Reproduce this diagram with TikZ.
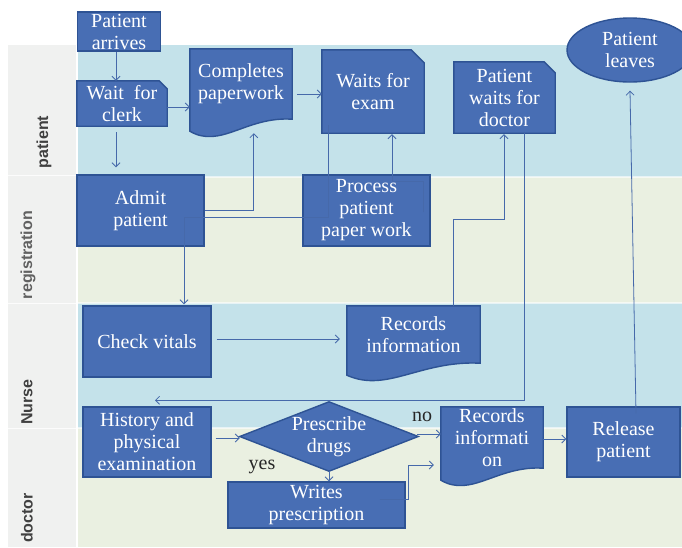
\documentclass[tikz,border=0pt]{standalone}
\usepackage{fontspec}
\setmainfont{Liberation Serif}
\newfontfamily\lanefont{Liberation Sans}
\usetikzlibrary{calc,arrows.meta,shapes.geometric}
\definecolor{laneblue}{RGB}{196,226,234}
\definecolor{lanegreen}{RGB}{234,240,225}
\definecolor{labelgray}{RGB}{240,241,240}
\definecolor{boxfill}{RGB}{72,110,180}
\definecolor{boxline}{RGB}{46,83,148}
\definecolor{connline}{RGB}{70,105,170}
\pgfdeclarelayer{back}
\pgfdeclarelayer{shapes}
\pgfsetlayers{back,shapes,main}
\tikzset{
  boxtext/.style={text=white, font=\fontsize{20}{22}\selectfont, align=center, inner sep=0pt},
  rectbox/.style={boxtext, rectangle, draw=boxline, fill=boxfill, line width=1.4pt},
  plainbox/.style={boxtext, rectangle, draw=none},
  shapefill/.style={draw=boxline, fill=boxfill, line width=1.4pt, line join=miter},
  conn/.style={draw=connline, line width=0.8pt, -{Straight Barb[length=4pt,width=8pt]}},
  lanelabel/.style={rotate=90, font=\lanefont\bfseries\fontsize{16}{16}\selectfont, text=black!75, inner sep=0pt},
  edgelabel/.style={font=\fontsize{20}{22}\selectfont, text=black!85, inner sep=0pt},
}
\newcommand\cardshape[2]{%
  \begin{pgfonlayer}{shapes}
  \path[shapefill] (#1.north west) -- ($(#1.north east)+(-#2,0)$) -- ($(#1.north east)+(0,#2)$)
     -- (#1.south east) -- (#1.south west) -- cycle;
  \end{pgfonlayer}}
\newcommand\docshape[1]{%
  \begin{pgfonlayer}{shapes}
  \path[shapefill] (#1.north west) -- (#1.north east) -- (#1.south east)
     .. controls ($(#1.south west)!0.55!(#1.south east)+(0,-3)$) and ($(#1.south west)!0.3!(#1.south east)+(0,30)$)
     .. ($(#1.south west)+(0,12)$) -- cycle;
  \end{pgfonlayer}}
\newcommand\diamondshape[1]{%
  \begin{pgfonlayer}{shapes}
  \path[shapefill] (#1.west) -- (#1.north) -- (#1.east) -- (#1.south) -- cycle;
  \end{pgfonlayer}}
\begin{document}
\begin{tikzpicture}[x=1pt,y=-1pt]
\useasboundingbox (0,0) rectangle (682,547);
\begin{pgfonlayer}{back}
  \fill[white] (0,0) rectangle (682,547);
  \fill[labelgray] (8,45) rectangle (76,547);
  \fill[laneblue] (78,45) rectangle (682,177);
  \fill[lanegreen] (78,177) rectangle (682,303);
  \fill[laneblue] (78,303) rectangle (682,428);
  \fill[lanegreen] (78,428) rectangle (682,547);
  \draw[white, line width=2pt, opacity=0.6] (78,177) -- (682,177) (78,303) -- (682,303) (78,428) -- (682,428);
  \draw[white, line width=1pt, opacity=0.8] (8,175) -- (76,175) (8,303) -- (76,303) (8,428) -- (76,428);
\end{pgfonlayer}

% lane labels
\node[lanelabel] (lpatient) at (44,142) {patient};
\node[lanelabel, text=black!62] (lregistration) at (28,255) {registration};
\node[lanelabel] (lnurse) at (27,402) {Nurse};
\node[lanelabel] (ldoctor) at (27,518) {doctor};

% nodes
\node[rectbox, minimum width=83pt, minimum height=39pt] (arrive) at (119,31.5) {Patient\\arrives};
\node[plainbox, minimum width=90pt, minimum height=45pt] (wait) at (122,103.5) {Wait\ \ for\\clerk};
\cardshape{wait}{8}
\node[plainbox, minimum width=102pt, minimum height=70pt] (paper) at (241,84) {Completes\\paperwork};
\docshape{paper}
\node[plainbox, minimum width=102pt, minimum height=83pt] (exam) at (373,91.5) {Waits for\\exam};
\cardshape{exam}{13}
\node[plainbox, minimum width=101pt, minimum height=71pt] (waitdoc) at (504.5,97.5) {Patient\\waits for\\doctor};
\cardshape{waitdoc}{11}
\node[ellipse, boxtext, draw=boxline, fill=boxfill, line width=1.4pt, minimum width=126pt, minimum height=64pt] (leaves) at (630,50) {Patient\\leaves};

\node[rectbox, minimum width=127pt, minimum height=71pt] (admit) at (140.5,210.5) {Admit\\patient};
\node[rectbox, minimum width=127pt, minimum height=71pt] (process) at (366.5,210.5) {Process\\patient\\paper work};

\node[rectbox, minimum width=128pt, minimum height=71pt] (vitals) at (147,341.5) {Check vitals};
\node[plainbox, minimum width=133pt, minimum height=57pt] (recnurse) at (413.5,334.5) {Records\\information};
\docshape{recnurse}

\node[rectbox, minimum width=128pt, minimum height=70pt] (history) at (147,442) {History and\\physical\\examination};
\node[plainbox, minimum width=178pt, minimum height=69pt] (prescribe) at (329,436.5) {Prescribe\\drugs};
\diamondshape{prescribe}
\node[rectbox, minimum width=177pt, minimum height=46pt] (writes) at (316.5,505) {Writes\\prescription};
\node[plainbox, minimum width=102pt, minimum height=61pt] (recdoc) at (492,437.5) {Records\\informati\\on};
\docshape{recdoc}
\node[rectbox, minimum width=113pt, minimum height=70pt] (release) at (623.5,442) {Release\\patient};

\node[edgelabel] (nolabel) at (422,417) {no};
\node[edgelabel] (yeslabel) at (262,467) {yes};

% connectors
\coordinate (a1) at ($(arrive.south)+(-3,0)$);
\draw[conn] (a1) -- (a1 |- wait.north);
\coordinate (b1) at ($(wait.east)+(0,3.5)$);
\draw[conn] (b1) -- (b1 -| paper.west);
\coordinate (c1) at ($(wait.south)+(-6,6)$);
\draw[conn] (c1) -- ($(c1 |- admit.north)+(0,-7)$);
\coordinate (d1) at ($(paper.east)+(5,10)$);
\draw[conn] (d1) -- (d1 -| exam.west);
\coordinate (e1) at ($(admit.east)+(0,-0.5)$);
\draw[conn] (e1) -| ($(paper.south west)+(64,14)$);
\coordinate (f1) at ($(exam.south west)+(7,-8)$);
\draw[conn] (f1) -- ++(0,92) -| ($(vitals.north)+(37,-1)$);
\coordinate (g1) at ($(process.north east)+(-7,38)$);
\draw[conn] (g1) -- ++(0,-31) -| ($(exam.south)+(19,1)$);
\coordinate (h1) at ($(recnurse.north west)+(107,0)$);
\draw[conn] (h1) -- ++(0,-86) -| ($(waitdoc.south)+(-0.5,1)$);
\coordinate (i1) at ($(waitdoc.south)+(19.5,0)$);
\draw[conn] (i1) |- ($(history.north)+(8,-6)$);
\coordinate (j1) at ($(vitals.east)+(5,-2.5)$);
\draw[conn] (j1) -- ($(j1 -| recnurse.west)+(-7,0)$);
\coordinate (k1) at ($(history.east)+(4,-4)$);
\draw[conn] (k1) -- (k1 -| prescribe.west);
\coordinate (l1) at ($(prescribe.east)+(-1,-2.5)$);
\draw[conn] (l1) -- (l1 -| recdoc.west);
\draw[conn] (prescribe.south) -- (prescribe.south |- writes.north);
\coordinate (n1) at ($(writes.east)+(-26,-6)$);
\draw[conn] (n1) -- ++(29,0) |- ($(recdoc.west)+(-7,27.5)$);
\coordinate (o1) at ($(recdoc.east)+(0,1.5)$);
\draw[conn] (o1) -- (o1 -| release.west);
\coordinate (p1) at ($(release.north)+(12.5,7)$);
\draw[conn] (p1) -- ($(leaves.south)+(0,8)$);
\end{tikzpicture}
\end{document}
